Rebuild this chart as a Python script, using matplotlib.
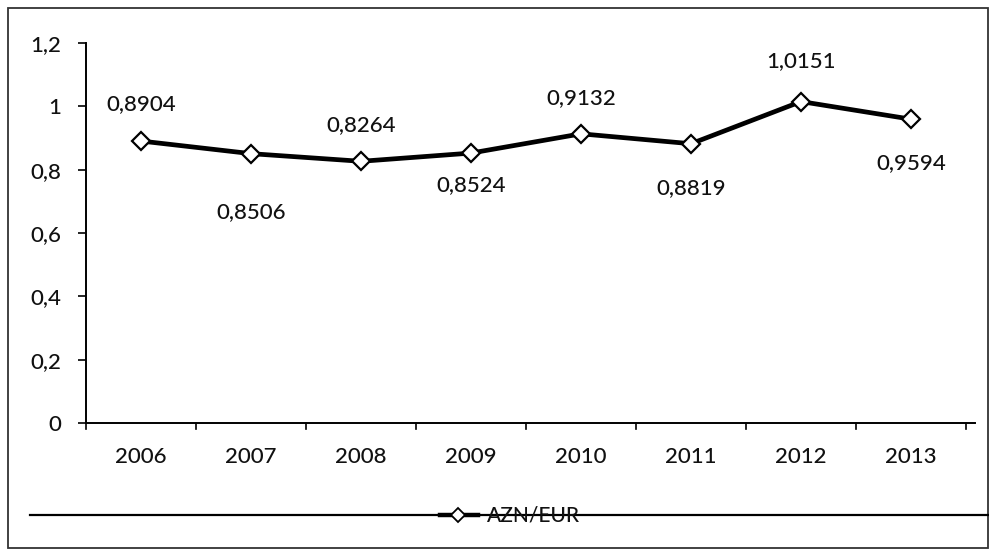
import matplotlib
matplotlib.use("Agg")
import matplotlib.pyplot as plt
from matplotlib.lines import Line2D
from matplotlib.patches import Rectangle

years = ["2006", "2007", "2008", "2009", "2010", "2011", "2012", "2013"]
values = [0.8904, 0.8506, 0.8264, 0.8524, 0.9132, 0.8819, 1.0151, 0.9594]
labels = ["0,8904", "0,8506", "0,8264", "0,8524", "0,9132", "0,8819", "1,0151", "0,9594"]
series_name = "AZN/EUR"
yticks = [0, 0.2, 0.4, 0.6, 0.8, 1.0, 1.2]
ytick_labels = ["0", "0,2", "0,4", "0,6", "0,8", "1", "1,2"]

plt.rcParams['font.family'] = ['Lato', 'DejaVu Sans']
plt.rcParams['font.weight'] = 'medium'
W, H = 989, 550
fig = plt.figure(figsize=(W / 100, H / 100), dpi=100)

x0, x1 = 86, 966
ytop, ybot = 43, 423
ax = fig.add_axes([x0 / W, 1 - ybot / H, (x1 - x0) / W, (ybot - ytop) / H])

FS = 16
TC = "#111111"

x = list(range(len(years)))
ax.plot(x, values, color="black", lw=3.4, marker="D", markersize=9,
        markerfacecolor="white", markeredgecolor="black", markeredgewidth=1.6, zorder=3)

offsets = [-37, 58, -36, 32, -36, 44, -40, 44]
for xi, v, lab, off in zip(x, values, labels, offsets):
    ax.annotate(lab, (xi, v), xytext=(0, -off), textcoords="offset pixels",
                ha="center", va="center", fontsize=FS, color=TC)

ax.set_xlim(-0.5, len(years) - 0.5)
ax.set_ylim(0, 1.2)
ax.set_yticks(yticks)
ax.set_yticklabels(ytick_labels, fontsize=FS, color=TC)
ax.set_xticks(x)
ax.set_xticklabels(years, fontsize=FS, color=TC)
ax.tick_params(axis="x", length=0, pad=17)
ax.tick_params(axis="y", length=6, width=1.2, pad=12)
for b in [i - 0.5 for i in range(len(years) + 1)]:
    ax.plot([b, b], [0, -0.02], color="black", lw=1.2, clip_on=False)
for s in ["top", "right"]:
    ax.spines[s].set_visible(False)
ax.spines["left"].set_linewidth(1.4)
ax.spines["bottom"].set_linewidth(1.4)
ax.spines["bottom"].set_bounds(-0.5, len(years) - 0.5 + 0.08)

fig.patches.append(Rectangle((8 / W, 2 / H), 1 - 9 / W, 1 - 10 / H, transform=fig.transFigure,
                             fill=False, edgecolor="#333333", lw=1.3))

ly = 1 - 515 / H
fig.lines.append(Line2D([30 / W, 1.0], [ly, ly], transform=fig.transFigure, color="black", lw=1.6))
fig.lines.append(Line2D([440 / W, 478 / W], [ly, ly], transform=fig.transFigure, color="black", lw=3.2))
fig.lines.append(Line2D([458 / W], [ly], transform=fig.transFigure, marker="D", markersize=7,
                        markerfacecolor="white", markeredgecolor="black", markeredgewidth=1.3))
fig.text(487 / W, ly, series_name, ha="left", va="center", fontsize=15, color=TC)

fig.savefig("out.png", dpi=100)
